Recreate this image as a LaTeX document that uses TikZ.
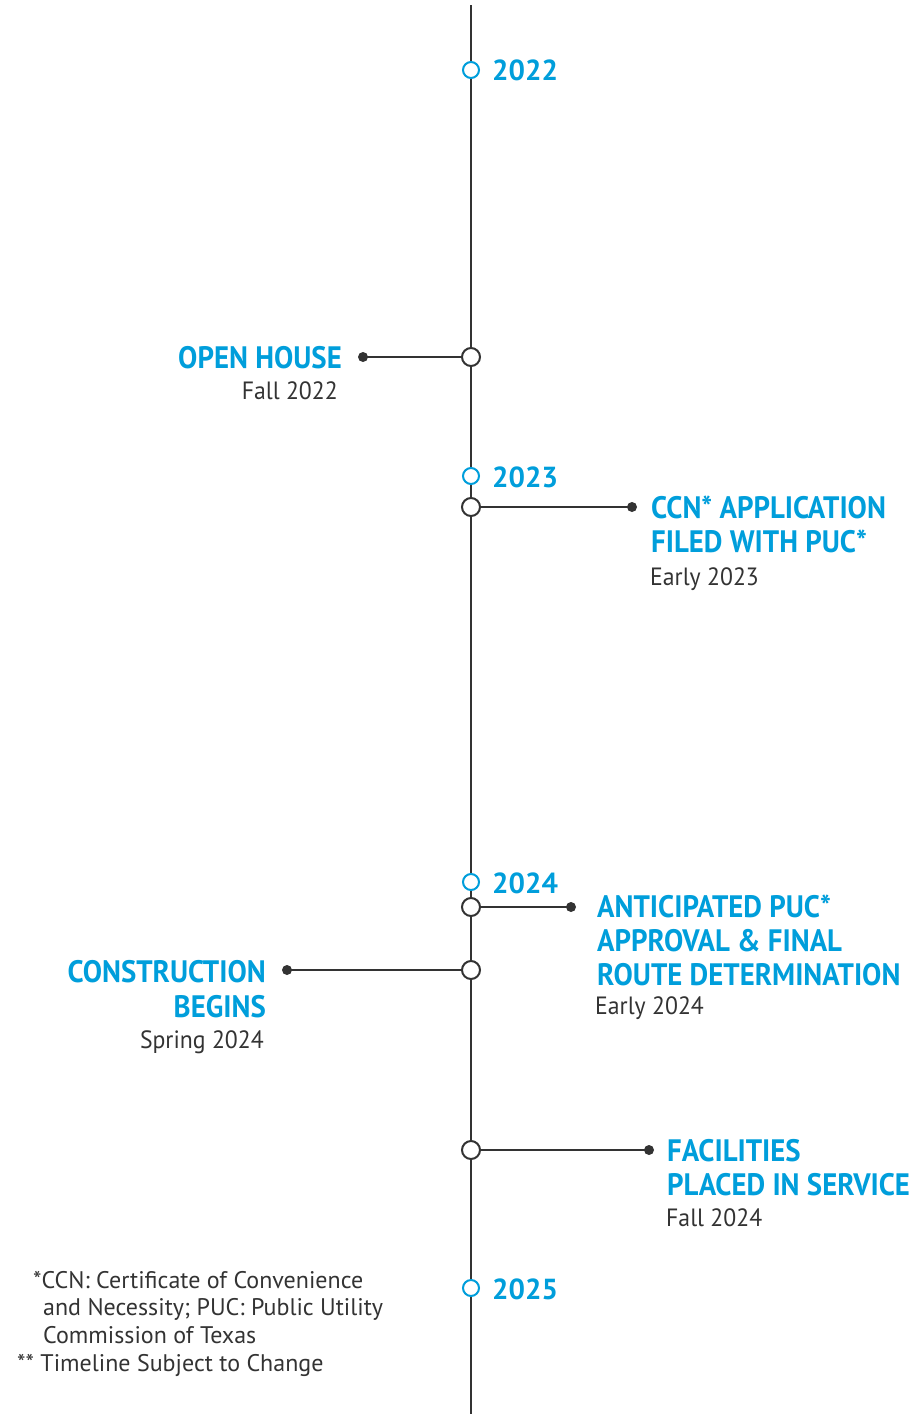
\documentclass[tikz,border=0pt]{standalone}
\usepackage{fontspec}
\setmainfont{PT Sans}
\newfontfamily\headfont[FakeStretch=0.93]{PT Sans Bold}
\newfontfamily\datefont[FakeStretch=0.95]{PT Sans}
\definecolor{tlblue}{RGB}{0,158,219}
\definecolor{tlgray}{RGB}{51,51,51}
\begin{document}
\begin{tikzpicture}[x=1pt,y=-1pt,
  spine/.style={draw=tlgray,line width=2pt},
  yearmark/.style={circle,draw=tlblue,fill=white,line width=2pt,minimum size=16pt,inner sep=0pt},
  eventmark/.style={circle,draw=tlgray,fill=white,line width=2pt,minimum size=18pt,inner sep=0pt},
  enddot/.style={circle,fill=tlgray,minimum size=10pt,inner sep=0pt},
  yeartext/.style={font=\fontsize{29}{34}\selectfont\bfseries,text=tlblue,inner sep=0pt},
  headtext/.style={font=\fontsize{31}{34}\headfont,text=tlblue,inner sep=0pt},
  datetext/.style={font=\fontsize{25}{29}\datefont,text=tlgray,inner sep=0pt},
  notetext/.style={font=\fontsize{24}{27}\selectfont,text=tlgray,inner sep=0pt}]
\useasboundingbox (0,0) rectangle (923,1414);

% timeline spine
\coordinate (top) at (471,5);
\coordinate (bottom) at (471,1414);
\draw[spine] (top) -- (bottom);

% year markers
\node[yearmark] (y22) at (471,70) {};
\node[yearmark] (y23) at (471,476) {};
\node[yearmark] (y24) at (471,882) {};
\node[yearmark] (y25) at (471,1288) {};
\node[yeartext,anchor=base west] (t22) at (492,80) {2022};
\node[yeartext,anchor=base west] (t23) at (492,487) {2023};
\node[yeartext,anchor=base west] (t24) at (492,893) {2024};
\node[yeartext,anchor=base west] (t25) at (492,1299) {2025};

% events
\node[eventmark] (e1) at (471,357) {};
\node[enddot] (d1) at (363,357) {};
\draw[spine] (d1.center) -- (e1);
\node[headtext,anchor=base east] (h1) at (342,368) {OPEN HOUSE};
\node[datetext,anchor=base east] (s1) at (338,399) {Fall 2022};

\node[eventmark] (e2) at (471,507) {};
\node[enddot] (d2) at (632,507) {};
\draw[spine] (e2) -- (d2.center);
\node[headtext,anchor=base west] (h2a) at (651,518) {CCN* APPLICATION};
\node[headtext,anchor=base west] (h2b) at (651,552) {FILED WITH PUC*};
\node[datetext,anchor=base west] (s2) at (650,585) {Early 2023};

\node[eventmark] (e3) at (471,907) {};
\node[enddot] (d3) at (571,907) {};
\draw[spine] (e3) -- (d3.center);
\node[headtext,anchor=base west] (h3a) at (597,917) {ANTICIPATED PUC*};
\node[headtext,anchor=base west] (h3b) at (597,951) {APPROVAL \& FINAL};
\node[headtext,anchor=base west] (h3c) at (597,985) {ROUTE DETERMINATION};
\node[datetext,anchor=base west] (s3) at (595,1014) {Early 2024};

\node[eventmark] (e4) at (471,970) {};
\node[enddot] (d4) at (287,970) {};
\draw[spine] (d4.center) -- (e4);
\node[headtext,anchor=base east] (h4a) at (266,982) {CONSTRUCTION};
\node[headtext,anchor=base east] (h4b) at (266,1017) {BEGINS};
\node[datetext,anchor=base east] (s4) at (264,1048) {Spring 2024};

\node[eventmark] (e5) at (471,1150) {};
\node[enddot] (d5) at (649,1150) {};
\draw[spine] (e5) -- (d5.center);
\node[headtext,anchor=base west] (h5a) at (667,1161) {FACILITIES};
\node[headtext,anchor=base west] (h5b) at (667,1195) {PLACED IN SERVICE};
\node[datetext,anchor=base west] (s5) at (666,1226) {Fall 2024};

% footnotes
\node[notetext,anchor=base west] (n1) at (33,1288) {*CCN: Certificate of Convenience};
\node[notetext,anchor=base west] (n2) at (43,1315) {and Necessity; PUC: Public Utility};
\node[notetext,anchor=base west] (n3) at (43,1343) {Commission of Texas};
\node[notetext,anchor=base west] (n4) at (17,1371) {** Timeline Subject to Change};
\end{tikzpicture}
\end{document}
